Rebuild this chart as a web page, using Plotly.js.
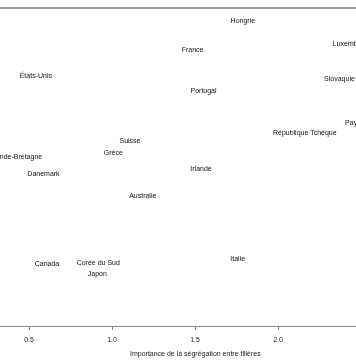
<!DOCTYPE html>
<html>
<head>
<meta charset="utf-8">
<script src="https://cdn.plot.ly/plotly-3.0.1.min.js"></script>
<style>
html,body{margin:0;padding:0;background:#fff;overflow:hidden;width:356px;height:364px;}
#chart{width:420px;height:364px;}
.main-svg{will-change:transform;}
</style>
</head>
<body>
<div id="chart"></div>
<script>
const countries = ["Hongrie","France","Luxembourg","Slovaquie","Portugal","États-Unis","Pays-Bas","République Tchèque","Suisse","Grèce","Grande-Bretagne","Danemark","Australie","Irlande","Canada","Corée du Sud","Japon","Italie"];
const segregation = [1.788,1.485,2.447,2.370,1.551,0.541,2.494,2.161,1.108,1.008,0.416,0.587,1.185,1.536,0.608,0.917,0.911,1.757];
const yValues = [3.05,2.76,2.82,2.47,2.35,2.50,2.03,1.93,1.85,1.73,1.69,1.52,1.30,1.57,0.62,0.63,0.52,0.67];
const xTicks = [0.5,1.0,1.5,2.0,2.5];
const xTickLabels = ["0.5","1.0","1.5","2.0","2.5"];
const xTitle = "Importance de la ségrégation entre filières";

const trace = {
  x: segregation, y: yValues, text: countries,
  mode: "text", type: "scatter",
  textposition: "middle center",
  textfont: {family: "Liberation Sans, Arial, sans-serif", size: 7, color: "#111"},
  hoverinfo: "text", cliponaxis: false
};
const layout = {
  width: 420, height: 364,
  margin: {l: 0, r: 0, t: 8, b: 38},
  paper_bgcolor: "#fff", plot_bgcolor: "#fff",
  showlegend: false,
  font: {family: "Liberation Sans, Arial, sans-serif", size: 7, color: "#222"},
  xaxis: {
    range: [0.325, 2.855], showgrid: false, zeroline: false,
    showline: true, linecolor: "#8a8a8a", linewidth: 1,
    ticks: "outside", ticklen: 3, tickcolor: "#8a8a8a", tickwidth: 1,
    ticklabelstandoff: 4,
    tickvals: xTicks, ticktext: xTickLabels,
    tickfont: {size: 7, color: "#222"}
  },
  yaxis: {range: [0, 3.18], visible: false, showgrid: false, zeroline: false},
  shapes: [{type: "line", xref: "paper", yref: "paper", x0: 0, x1: 1, y0: 1, y1: 1,
            line: {color: "#9a9a9a", width: 2}}],
  annotations: [{text: xTitle, xref: "x", x: 1.5, yref: "paper", y: 0, yanchor: "middle",
                 yshift: -28, showarrow: false, font: {size: 7, color: "#222"}}]
};
Plotly.newPlot("chart", [trace], layout, {displayModeBar: false, staticPlot: true});
</script>
</body>
</html>
